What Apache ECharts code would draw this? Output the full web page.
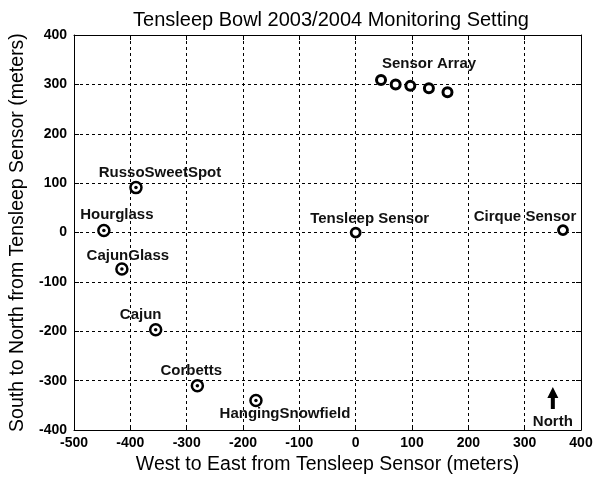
<!DOCTYPE html>
<html>
<head>
<meta charset="utf-8">
<script src="https://cdn.jsdelivr.net/npm/echarts@6/dist/echarts.min.js"></script>
<style>html,body{margin:0;padding:0;background:#fff}#c{width:600px;height:480px}</style>
</head>
<body>
<div id="c"></div>
<script>
// ---- data ----
var siteNames = ['RussoSweetSpot', 'Hourglass', 'CajunGlass', 'Cajun', 'Corbetts', 'HangingSnowfield'];
var siteX = [-390, -447, -415, -355, -281, -177];
var siteY = [91, 4, -74, -197, -310, -340];

var sensorNames = ['Tensleep Sensor', 'Cirque Sensor'];
var sensorX = [0, 368];
var sensorY = [0, 5];

var arrayLabel = 'Sensor Array';
var arrayX = [45, 71, 97, 130, 163];
var arrayY = [309, 300, 297, 292, 284];

var northLabel = 'North';
var northX = [350];
var northY = [-335];

var xTicks = [-500, -400, -300, -200, -100, 0, 100, 200, 300, 400];
var yTicks = [-400, -300, -200, -100, 0, 100, 200, 300, 400];

// ---- label placement (style, pixel offsets) ----
var labelOffset = {
  'RussoSweetSpot': [24, -15],
  'Hourglass': [13, -16],
  'CajunGlass': [6, -13],
  'Cajun': [-15, -15],
  'Corbetts': [-6, -15],
  'HangingSnowfield': [29, 13],
  'Tensleep Sensor': [14, -14],
  'Cirque Sensor': [-38, -13],
  'Sensor Array': [48, -16]
};

var labelFont = {fontFamily: 'Liberation Sans, Arial, sans-serif', fontWeight: 'bold', fontSize: 15, color: '#111'};

function pts(xs, ys, names) {
  return xs.map(function (x, i) {
    var d = {value: [x, ys[i]]};
    if (names && names[i]) {
      d.name = names[i];
      d.label = Object.assign({show: true, formatter: names[i], offset: labelOffset[names[i]], position: 'inside'}, labelFont);
    }
    return d;
  });
}

var arrayNames = arrayX.map(function (_, i) { return i === 0 ? arrayLabel : null; });

var tickFont = {fontFamily: 'Liberation Sans Narrow, Arial Narrow, Liberation Sans, sans-serif', fontWeight: 'bold', fontSize: 14, color: '#000'};
var dashed = {show: true, lineStyle: {color: '#000', type: [3, 3], width: 1}};
var nameFont = {fontFamily: 'Liberation Sans, Arial, sans-serif', fontSize: 19.5, color: '#000'};

var chart = echarts.init(document.getElementById('c'), null, {renderer: 'canvas'});
chart.setOption({
  animation: false,
  backgroundColor: '#fff',
  title: {
    text: 'Tensleep Bowl 2003/2004 Monitoring Setting',
    left: 326, top: 5, textAlign: 'center',
    textStyle: {fontFamily: 'Liberation Sans, Arial, sans-serif', fontWeight: 'normal', fontSize: 20, color: '#000'}
  },
  grid: {left: 74, right: 19, top: 35, bottom: 44},
  xAxis: [{
    type: 'value', min: xTicks[0], max: xTicks[xTicks.length - 1], interval: 100,
    name: 'West to East from Tensleep Sensor (meters)', nameLocation: 'middle', nameGap: 23,
    nameTextStyle: nameFont,
    axisLine: {show: true, onZero: false, lineStyle: {color: '#000', width: 1}},
    axisTick: {show: true, inside: true, length: 5, lineStyle: {color: '#000'}},
    axisLabel: Object.assign({margin: 6}, tickFont),
    splitLine: dashed
  }, {
    type: 'value', position: 'top', min: xTicks[0], max: xTicks[xTicks.length - 1], interval: 100,
    axisLine: {show: true, onZero: false, lineStyle: {color: '#000', width: 1}},
    axisTick: {show: true, inside: true, length: 5, lineStyle: {color: '#000'}},
    axisLabel: {show: false}, splitLine: {show: false}
  }],
  yAxis: [{
    type: 'value', min: yTicks[0], max: yTicks[yTicks.length - 1], interval: 100,
    name: 'South to North from Tensleep Sensor (meters)', nameLocation: 'middle', nameGap: 46,
    nameTextStyle: nameFont,
    axisLine: {show: true, onZero: false, lineStyle: {color: '#000', width: 1}},
    axisTick: {show: true, inside: true, length: 5, lineStyle: {color: '#000'}},
    axisLabel: Object.assign({margin: 7}, tickFont),
    splitLine: dashed
  }, {
    type: 'value', position: 'right', min: yTicks[0], max: yTicks[yTicks.length - 1], interval: 100,
    axisLine: {show: true, onZero: false, lineStyle: {color: '#000', width: 1}},
    axisTick: {show: true, inside: true, length: 5, lineStyle: {color: '#000'}},
    axisLabel: {show: false}, splitLine: {show: false}
  }],
  series: [
    {
      type: 'scatter', name: 'sites', symbol: 'circle', symbolSize: 11,
      itemStyle: {color: '#fff', borderColor: '#000', borderWidth: 2.5, opacity: 1},
      data: pts(siteX, siteY, siteNames), z: 3
    },
    {
      type: 'scatter', name: 'siteDots', symbol: 'circle', symbolSize: 3.5,
      itemStyle: {color: '#000', opacity: 1}, data: pts(siteX, siteY), z: 10, silent: true
    },
    {
      type: 'scatter', name: 'sensors', symbol: 'circle', symbolSize: 9,
      itemStyle: {color: '#fff', borderColor: '#000', borderWidth: 2.8, opacity: 1},
      data: pts(sensorX, sensorY, sensorNames), z: 3
    },
    {
      type: 'scatter', name: 'array', symbol: 'circle', symbolSize: 9,
      itemStyle: {color: '#fff', borderColor: '#000', borderWidth: 3, opacity: 1},
      data: pts(arrayX, arrayY, arrayNames), z: 3
    },
    {
      type: 'scatter', name: 'north', symbol: 'path://M5.5,0 L11,11 L7.5,11 L7.5,22 L3.5,22 L3.5,11 L0,11 Z', symbolSize: [11, 22],
      itemStyle: {color: '#000', opacity: 1},
      label: Object.assign({show: true, formatter: northLabel, position: 'bottom', distance: 5}, labelFont),
      data: northX.map(function (x, i) { return [x, northY[i]]; }), z: 3
    }
  ]
});
</script>
</body>
</html>
